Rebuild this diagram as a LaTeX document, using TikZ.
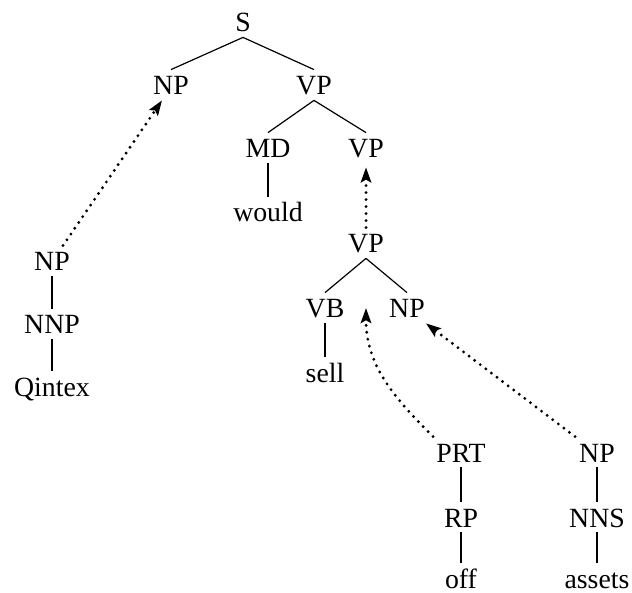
\documentclass[tikz,border=0pt]{standalone}
\usepackage{fontspec}
\setmainfont{Liberation Serif}
\usetikzlibrary{arrows.meta}
\begin{document}
\begin{tikzpicture}[x=0.5pt,y=-0.5pt,
  cat/.style={anchor=base,inner xsep=0pt,inner ysep=2.5pt,
    text height=10pt,text depth=0pt,font=\fontsize{13.9}{16}\selectfont},
  branch/.style={line width=0.6pt},
  trace/.style={line width=1.6pt,line cap=round,dash pattern=on 0pt off 3.5pt,
    -{Stealth[length=7.5pt,width=5.2pt,inset=1.4pt]}}]
\useasboundingbox (0,0) rectangle (632,593);

% main tree
\node[cat] (s)      at (243,32)  {S};
\node[cat] (np)     at (171,95)  {NP};
\node[cat] (vp)     at (314,95)  {VP};
\node[cat] (md)     at (268,158) {MD};
\node[cat] (vpb)    at (366,158) {VP};
\node[cat] (would)  at (268,222) {would};

% moved subtree
\node[cat] (vpc)    at (366,253) {VP};
\node[cat] (vb)     at (325,318) {VB};
\node[cat] (npb)    at (407,318) {NP};
\node[cat] (sell)   at (325,382) {sell};

% particle
\node[cat] (prt)    at (461,462) {PRT};
\node[cat] (rp)     at (461,527) {RP};
\node[cat] (off)    at (461,588) {off};

% object
\node[cat] (npd)    at (597,462) {NP};
\node[cat] (nns)    at (597,527) {NNS};
\node[cat] (assets) at (597,588) {assets};

% subject
\node[cat] (npq)    at (52,271)  {NP};
\node[cat] (nnp)    at (52,334)  {NNP};
\node[cat] (qintex) at (52,396)  {Qintex};

\coordinate (gap) at (366,308);

% branches
\draw[branch] (s.south) -- (np.north);
\draw[branch] (s.south) -- (vp.north);
\draw[branch] (vp.south) -- (md.north);
\draw[branch] (vp.south) -- (vpb.north);
\draw[branch] (md.south) -- (would.north);
\draw[branch] (vpc.south) -- (vb.north);
\draw[branch] (vpc.south) -- (npb.north);
\draw[branch] (vb.south) -- (sell.north);
\draw[branch] (prt.south) -- (rp.north);
\draw[branch] (rp.south) -- (off.north);
\draw[branch] (npd.south) -- (nns.north);
\draw[branch] (nns.south) -- (assets.north);
\draw[branch] (npq.south) -- (nnp.north);
\draw[branch] (nnp.south) -- (qintex.north);

% attachment links
\draw[trace] ([xshift=5.5pt]npq.north) -- ([xshift=-4.5pt]np.south);
\draw[trace] (vpc.north) -- ([yshift=-2pt]vpb.south);
\draw[trace] ([xshift=-14pt]prt.north) to[out=135,in=-90] (gap);
\draw[trace] ([xshift=-11pt]npd.north) -- ([xshift=9.5pt]npb.south);
\end{tikzpicture}
\end{document}
